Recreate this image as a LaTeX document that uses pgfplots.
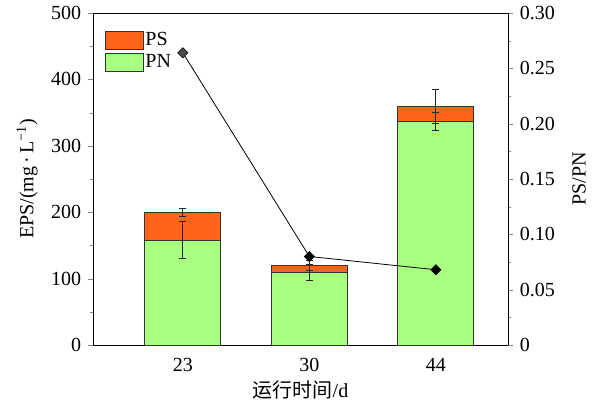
\documentclass[border=0pt]{standalone}
\usepackage{pgfplots}
\pgfplotsset{compat=1.18}
\usepackage{fontspec}
\setmainfont{Liberation Serif}
\newfontfamily\cjk{Noto Sans CJK SC}

\definecolor{psorange}{HTML}{FF6418}
\definecolor{pngreen}{HTML}{A8FF80}
\definecolor{edge}{HTML}{333333}

\pgfplotsset{
    boxlegend/.style={legend image code/.code={\draw[##1] (0pt,-9pt) rectangle (38pt,9pt);}},
    % one error bar: a vertical segment with a cap at each end
    errbar/.style={forget plot, black!85, line width=0.9pt, mark=-, mark size=3.5pt,
        mark options={solid, line width=0.9pt}},
}

% x, PN, PN+PS, PS/PN
\pgfplotstableread{
x  pn   tot   ratio
0  158  199   0.264
1  109  119.5 0.080
2  336  359   0.068
}\eps

\begin{document}
\fontsize{20}{24}\selectfont
\begin{tikzpicture}
\useasboundingbox (-93pt,-62pt) rectangle (499pt,345pt);
\begin{axis}[
    scale only axis,
    width=415pt, height=332pt,
    xmin=-0.71, xmax=2.57,
    ymin=0, ymax=500,
    xtick={0,1,2}, xticklabels={23,30,44},
    x tick style={draw=none},
    xtick pos=bottom,
    ytick={0,100,...,500},
    yticklabels={0,100,200,300,400,500},
    minor y tick num=1,
    ytick pos=left,
    tick align=outside,
    major tick length=5pt, minor tick length=3pt,
    xticklabel style={yshift=-1pt},
    ylabel={EPS/(mg\,·\,L\textsuperscript{−1})},
    xlabel={{\cjk 运行时间}/d},
    xlabel style={yshift=4pt},
    legend style={at={(0.02,0.955)}, anchor=north west, draw=none, fill=none,
        row sep=2pt, font=\fontsize{20}{24}\selectfont},
    legend cell align=left,
]
\addplot[ybar, bar width=0.6, bar shift=0pt, fill=psorange, draw=edge, line width=0.9pt, boxlegend]
    table[x=x, y=tot] {\eps};
\addlegendentry{PS}
\addplot[ybar, bar width=0.6, bar shift=0pt, fill=pngreen, draw=edge, line width=0.9pt, boxlegend]
    table[x=x, y=pn] {\eps};
\addlegendentry{PN}
% error bars (low, high)
\addplot[errbar] coordinates {(0,193) (0,205)};
\addplot[errbar] coordinates {(0,130.5) (0,185.5)};
\addplot[errbar] coordinates {(1,113) (1,127)};
\addplot[errbar] coordinates {(1,97) (1,121)};
\addplot[errbar] coordinates {(2,333.5) (2,384.5)};
\addplot[errbar] coordinates {(2,322.5) (2,349.5)};
\end{axis}
\begin{axis}[
    scale only axis,
    width=415pt, height=332pt,
    xmin=-0.71, xmax=2.57,
    ymin=0, ymax=0.3,
    axis x line=none,
    axis y line*=right,
    ytick={0,0.05,...,0.3},
    yticklabels={0,0.05,0.10,0.15,0.20,0.25,0.30},
    minor y tick num=1,
    tick align=outside,
    major tick length=5pt, minor tick length=3pt,
    ylabel={PS/PN},
    ylabel style={yshift=-4pt},
]
\addplot[black, line width=0.8pt, mark=square*, mark size=3.5pt,
    mark options={rotate=45, solid, fill=black}]
    table[x=x, y=ratio] {\eps};
\addplot[only marks, mark=square*, mark size=3pt, skip coords between index={1}{3},
    mark options={rotate=45, fill=black!70, draw=black!70}]
    table[x=x, y=ratio] {\eps};
\end{axis}
\end{tikzpicture}
\end{document}
